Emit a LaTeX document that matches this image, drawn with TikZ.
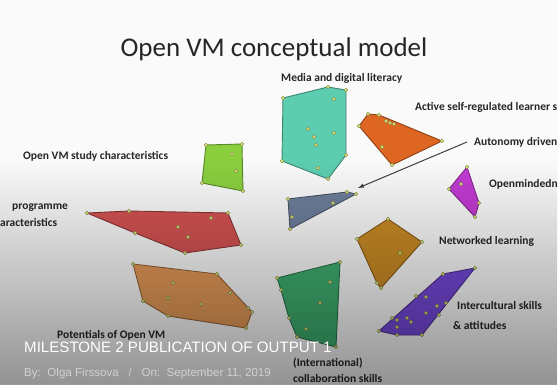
\documentclass[tikz,border=0pt]{standalone}
\usepackage{fontspec}
\setmainfont{Carlito}
\newfontfamily\bannerfont{Liberation Sans}
\usetikzlibrary{fadings}

\definecolor{bg}{HTML}{FAFAFA}
\definecolor{mediac}{HTML}{5DCDB0}
\definecolor{activec}{HTML}{DD6622}
\definecolor{studyc}{HTML}{8BCF3F}
\definecolor{progc}{HTML}{D45353}
\definecolor{autoc}{HTML}{6E7F9C}
\definecolor{openc}{HTML}{C23BD3}
\definecolor{netc}{HTML}{C98B25}
\definecolor{interc}{HTML}{7549D9}
\definecolor{potc}{HTML}{E49A58}
\definecolor{collabc}{HTML}{3FAE70}
\definecolor{dotc}{HTML}{D9E27A}

\begin{document}
\begin{tikzpicture}[x=1pt,y=-1pt,
    hull/.style={fill=#1,draw=#1!65!black,line width=0.9pt,line join=round},
    dot/.style={circle,fill=dotc,draw=dotc!60!black,line width=0.3pt,inner sep=0pt,minimum size=3.6pt},
    lab/.style={font=\fontsize{11.5}{13}\selectfont\bfseries,text=black!85,inner sep=0pt,anchor=west,align=left}]

  \useasboundingbox (0,0) rectangle (558,384);
  \fill[bg] (0,0) rectangle (558,384);

  \node[font=\fontsize{27}{32}\selectfont,text=black!85] (title) at (274,49) {Open VM conceptual model};

  % clusters
  \filldraw[hull=mediac] (283,98) -- (328,87) -- (346,90) -- (346,155) -- (328,179) -- (282,161) -- cycle;
  \foreach \p in {(283,98),(328,87),(346,90),(346,155),(328,179),(282,161),
                  (334,99),(308,129),(314,137),(316,145),(334,133),(318,168)}
    \node[dot] at \p {};

  \filldraw[hull=activec] (359,126) -- (368,114) -- (379,115) -- (442,141) -- (392,165) -- cycle;
  \foreach \p in {(359,126),(368,114),(379,115),(442,141),(392,165),
                  (386,121),(390,123),(394,124),(382,147)}
    \node[dot] at \p {};

  \filldraw[hull=studyc] (206,145) -- (242,144) -- (243,191) -- (202,183) -- cycle;
  \foreach \p in {(206,145),(242,144),(243,191),(202,183),(232,154),(236,171)}
    \node[dot] at \p {};

  \filldraw[hull=progc] (87,213) -- (129,211) -- (228,213) -- (241,245) -- (185,253) -- (135,233) -- cycle;
  \foreach \p in {(87,213),(129,211),(228,213),(241,245),(185,253),(135,233),
                  (211,218),(178,227),(188,237)}
    \node[dot] at \p {};

  \filldraw[hull=autoc] (288,199) -- (347,192) -- (356,194) -- (290,229) -- cycle;
  \foreach \p in {(288,199),(347,192),(356,194),(290,229),(333,203),(292,217)}
    \node[dot] at \p {};

  \filldraw[hull=openc] (467,167) -- (479,203) -- (475,217) -- (449,189) -- cycle;
  \foreach \p in {(467,167),(479,203),(475,217),(449,189),(461,184)}
    \node[dot] at \p {};

  \filldraw[hull=netc] (388,219) -- (422,242) -- (381,288) -- (377,283) -- (357,239) -- cycle;
  \foreach \p in {(388,219),(422,242),(381,288),(377,283),(357,239),(400,253)}
    \node[dot] at \p {};

  \filldraw[hull=interc] (475,268) -- (443,274) -- (379,331) -- (397,335) -- (422,335) -- cycle;
  \foreach \p in {(475,268),(443,274),(379,331),(397,335),(422,335),
                  (416,296),(426,297),(437,306),(446,303),(426,313),(439,315),
                  (392,318),(397,320),(407,318),(411,322),(397,327)}
    \node[dot] at \p {};

  \filldraw[hull=collabc] (277,278) -- (340,262) -- (336,347) -- (297,337) -- (289,318) -- (281,290) -- cycle;
  \foreach \p in {(277,278),(340,262),(336,347),(297,337),(289,318),(281,290),
                  (330,282),(320,303),(306,329)}
    \node[dot] at \p {};

  \filldraw[hull=potc] (133,264) -- (217,274) -- (252,312) -- (246,328) -- (168,316) -- (143,301) -- cycle;
  \foreach \p in {(133,264),(217,274),(252,312),(246,328),(168,316),(143,301),
                  (173,283),(168,298),(201,304),(230,293),(248,308)}
    \node[dot] at \p {};

  % labels
  \node[lab] (media) at (281,78) {Media and digital literacy};
  \node[lab] (active) at (415,107) {Active self-regulated learner s};
  \node[lab] (study) at (23,156) {Open VM study characteristics};
  \node[lab] (prog) at (12,208) {programme};
  \node[lab] (progb) at (0,222) {aracteristics};
  \node[lab] (auto) at (474,142) {Autonomy driven};
  \node[lab] (open) at (489,184) {Openmindedn};
  \node[lab] (net) at (439,241) {Networked learning};
  \node[lab] (inter) at (457,306) {Intercultural skills};
  \node[lab] (interb) at (453,325) {\& attitudes};
  \node[lab] (pot) at (57,335) {Potentials of Open VM};
  \node[lab] (collab) at (293,363) {(International)};
  \node[lab] (collabb) at (293,378) {collaboration skills};

  \coordinate (autotip) at (358,188);
  \draw[black!75,line width=1pt,-latex] ([xshift=-7pt]auto.west) -- (autotip);

  % banner
  \fill[black,opacity=0.55,path fading=north] (0,160) rectangle (558,460);
  \node[font=\bannerfont\fontsize{15.1}{18}\selectfont,text=white,anchor=west,inner sep=0pt] (banner) at (24,347) {MILESTONE 2 PUBLICATION OF OUTPUT 1};
  \node[font=\bannerfont\fontsize{11.6}{13}\selectfont,text=black!18,anchor=west,inner sep=0pt] (byline) at (24,373) {By:\ \ Olga Firssova\ \ \ /\ \ \ On:\ \ September 11, 2019};
\end{tikzpicture}
\end{document}
